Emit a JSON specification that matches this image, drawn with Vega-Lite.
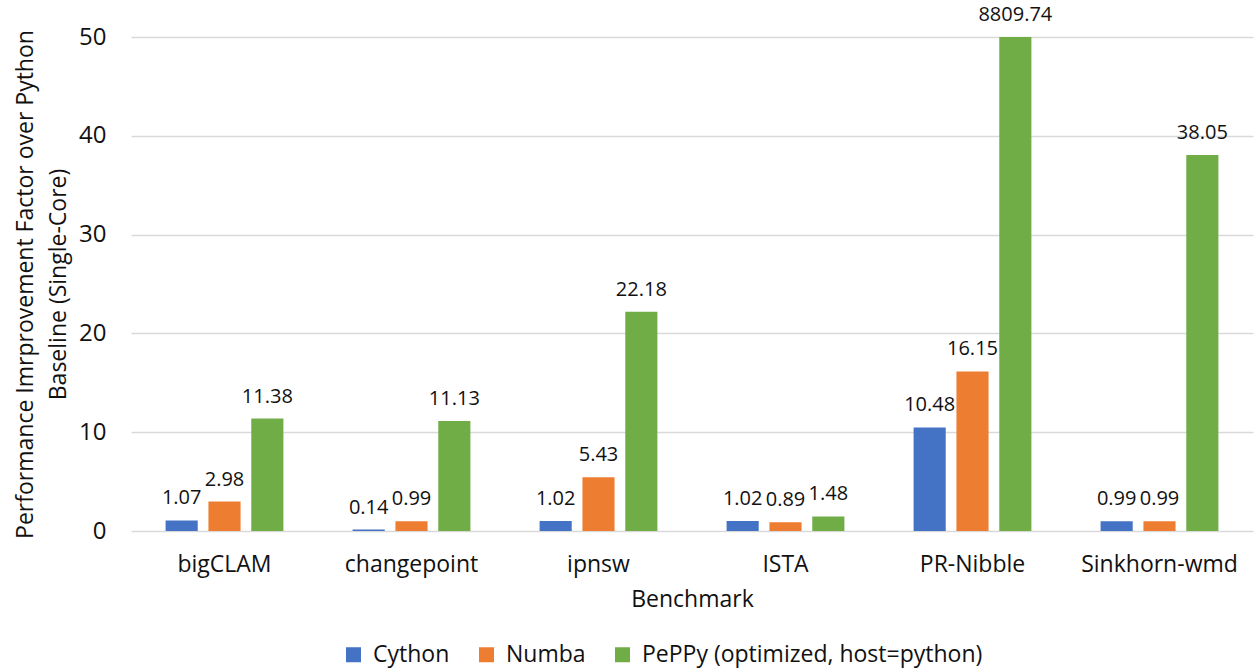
{
  "$schema": "https://vega.github.io/schema/vega-lite/v6.json",
  "width": 1122,
  "height": 494,
  "autosize": {"type": "none"},
  "padding": {"left": 131, "top": 37, "right": 1, "bottom": 137},
  "background": "white",
  "config": {
    "font": "Open Sans",
    "view": {"stroke": null},
    "axis": {"labelFont": "Open Sans", "titleFont": "Open Sans", "labelColor": "#111", "titleColor": "#111", "titleFontWeight": "normal"}
  },
  "data": {
    "values": [
      {"benchmark": "bigCLAM", "tool": "Cython", "speedup": 1.07},
      {"benchmark": "bigCLAM", "tool": "Numba", "speedup": 2.98},
      {"benchmark": "bigCLAM", "tool": "PePPy (optimized, host=python)", "speedup": 11.38},
      {"benchmark": "changepoint", "tool": "Cython", "speedup": 0.14},
      {"benchmark": "changepoint", "tool": "Numba", "speedup": 0.99},
      {"benchmark": "changepoint", "tool": "PePPy (optimized, host=python)", "speedup": 11.13},
      {"benchmark": "ipnsw", "tool": "Cython", "speedup": 1.02},
      {"benchmark": "ipnsw", "tool": "Numba", "speedup": 5.43},
      {"benchmark": "ipnsw", "tool": "PePPy (optimized, host=python)", "speedup": 22.18},
      {"benchmark": "ISTA", "tool": "Cython", "speedup": 1.02},
      {"benchmark": "ISTA", "tool": "Numba", "speedup": 0.89},
      {"benchmark": "ISTA", "tool": "PePPy (optimized, host=python)", "speedup": 1.48},
      {"benchmark": "PR-Nibble", "tool": "Cython", "speedup": 10.48},
      {"benchmark": "PR-Nibble", "tool": "Numba", "speedup": 16.15},
      {"benchmark": "PR-Nibble", "tool": "PePPy (optimized, host=python)", "speedup": 8809.74},
      {"benchmark": "Sinkhorn-wmd", "tool": "Cython", "speedup": 0.99},
      {"benchmark": "Sinkhorn-wmd", "tool": "Numba", "speedup": 0.99},
      {"benchmark": "Sinkhorn-wmd", "tool": "PePPy (optimized, host=python)", "speedup": 38.05}
    ]
  },
  "encoding": {
    "x": {
      "field": "benchmark",
      "type": "nominal",
      "sort": null,
      "scale": {"paddingInner": 0.37, "paddingOuter": 0.185},
      "axis": {
        "title": "Benchmark",
        "titleFontSize": 23,
        "titlePadding": 12,
        "labelFontSize": 23,
        "labelAngle": 0,
        "labelPadding": 22,
        "labelLimit": 0,
        "ticks": false,
        "domain": false
      }
    },
    "xOffset": {
      "field": "tool",
      "type": "nominal",
      "scale": {"paddingInner": 0.25}
    },
    "y": {
      "field": "speedup",
      "type": "quantitative",
      "scale": {"domain": [0, 50], "clamp": true, "nice": false},
      "axis": {
        "title": ["Performance Imrprovement  Factor over  Python", "Baseline  (Single-Core)"],
        "titleFontSize": 23,
        "titlePadding": 8,
        "titleLineHeight": 33,
        "labelFontSize": 24,
        "labelPadding": 25,
        "labelOverlap": false,
        "values": [0, 10, 20, 30, 40, 50],
        "ticks": false,
        "domain": false,
        "gridColor": "#D9D9D9",
        "gridWidth": 1.5
      }
    }
  },
  "layer": [
    {
      "mark": {"type": "bar"},
      "encoding": {
        "color": {
          "field": "tool",
          "type": "nominal",
          "scale": {
            "domain": ["Cython", "Numba", "PePPy (optimized, host=python)"],
            "range": ["#4472C4", "#ED7D31", "#70AD47"]
          },
          "legend": {
            "title": null,
            "orient": "none",
            "legendX": 211,
            "legendY": 606,
            "direction": "horizontal",
            "symbolType": "square",
            "symbolSize": 225,
            "symbolStrokeWidth": 0,
            "symbolOffset": 0,
            "labelOffset": 8,
            "labelFontSize": 23,
            "labelFont": "Open Sans",
            "labelColor": "#111",
            "labelLimit": 0,
            "columnPadding": 25
          }
        }
      }
    },
    {
      "mark": {"type": "text", "baseline": "bottom", "dy": -12, "fontSize": 20, "color": "#111"},
      "encoding": {
        "text": {"field": "speedup", "type": "quantitative", "format": ".2f"}
      }
    }
  ]
}
